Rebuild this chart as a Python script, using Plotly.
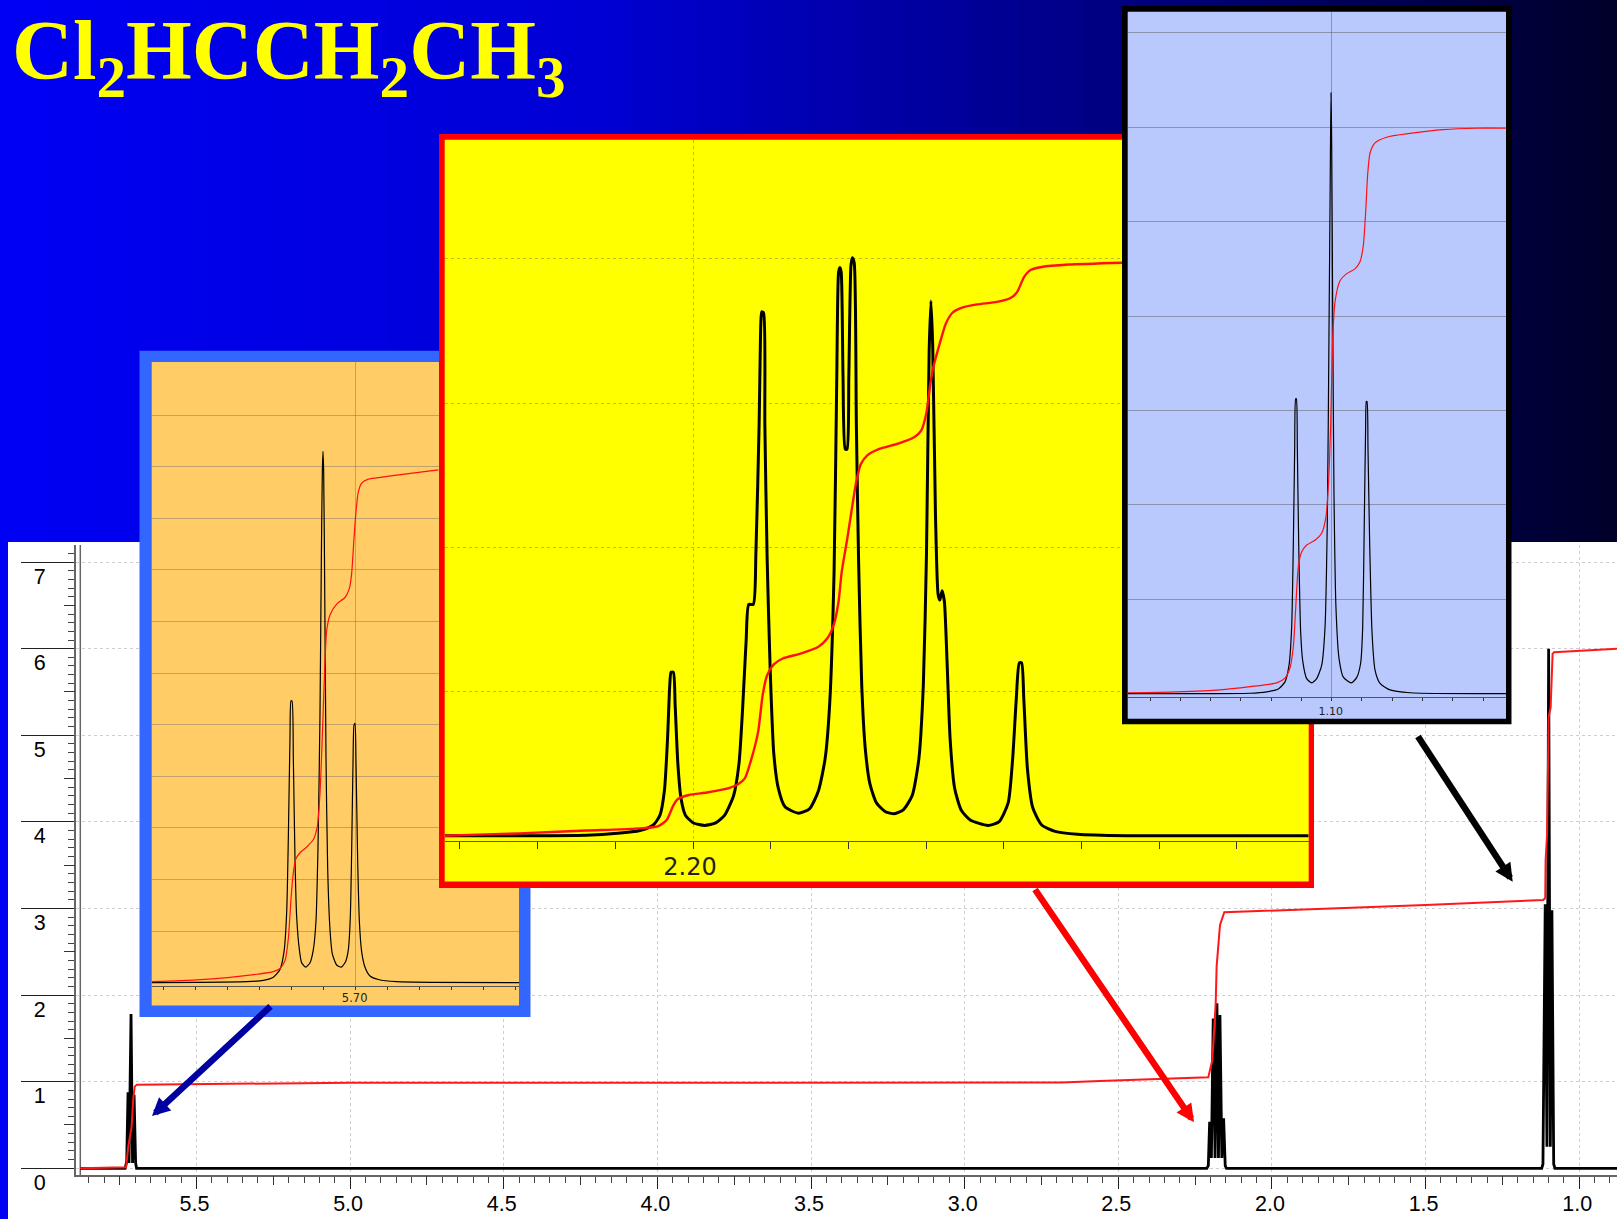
import plotly.graph_objects as go

W, H = 1617, 1219

# ---------- DATA (ppm, intensity units) ----------
TITLE = "Cl<sub>2</sub>HCCH<sub>2</sub>CH<sub>3</sub>"

MAIN_X_TICKS = [5.5, 5.0, 4.5, 4.0, 3.5, 3.0, 2.5, 2.0, 1.5, 1.0]
MAIN_X_LABELS = ["5.5", "5.0", "4.5", "4.0", "3.5", "3.0", "2.5", "2.0", "1.5", "1.0"]
MAIN_Y_TICKS = [0, 1, 2, 3, 4, 5, 6, 7]
MAIN_X_QUARTER = [5.75, 5.25, 4.75, 4.25, 3.75, 3.25, 2.75, 2.25, 1.75, 1.25]
MAIN_Y_HALF = [0.5, 1.5, 2.5, 3.5, 4.5, 5.5, 6.5]

MAIN_PPM = [5.879, 5.732, 5.727, 5.7227, 5.7195, 5.7129, 5.708, 5.703, 5.698, 5.695,
            2.212, 2.207, 2.2027, 2.197, 2.1911, 2.185, 2.179, 2.174, 2.1692, 2.163, 2.1572, 2.152, 2.148,
            1.122, 1.118, 1.1106, 1.105, 1.0995, 1.094, 1.0888, 1.083, 1.079, 0.877]
MAIN_INT = [0, 0, 0.08, 0.877, 0.06, 1.78, 0.06, 0.85, 0.06, 0,
            0, 0.03, 0.538, 0.12, 1.73, 0.12, 1.905, 0.12, 1.77, 0.12, 0.577, 0.03, 0,
            0, 0.05, 3.05, 0.25, 6.0, 0.25, 2.98, 0.05, 0, 0]
MAIN_INT_PPM = [5.879, 5.729, 5.722, 5.711, 5.706, 5.701, 5.694, 5.5, 5.0, 4.0, 2.684, 2.56, 2.207,
                2.194, 2.1888, 2.183, 2.180, 2.169, 2.155, 1.5, 1.117, 1.1106, 1.1093, 1.1046, 1.0995,
                1.093, 1.0866, 1.082, 0.877]
MAIN_INT_VAL = [0, 0.011, 0.25, 0.481, 0.79, 0.943, 0.966, 0.972, 0.987, 0.987, 0.99, 1.008, 1.05,
                1.25, 1.635, 1.905, 2.328, 2.81, 2.956, 3.04, 3.098, 3.12, 3.56, 3.845, 5.21,
                5.32, 5.94, 5.96, 6.0]

ORANGE_TICKS = [5.76, 5.75, 5.74, 5.73, 5.72, 5.71, 5.70, 5.69, 5.68, 5.67, 5.66, 5.65]
ORANGE_GRID = [1, 2, 3, 4, 5, 6, 7, 8, 9, 10, 11]
ORANGE_PPM = [5.76375, 5.73406, 5.72885, 5.72573, 5.72365, 5.72240, 5.72156, 5.72104, 5.72052, 5.72021,
              5.71990, 5.71948, 5.71896, 5.71844, 5.71760, 5.71688, 5.71563, 5.71427, 5.71323, 5.71240,
              5.71177, 5.71115, 5.71073, 5.71042, 5.71021, 5.71000, 5.70969, 5.70927, 5.70875, 5.70802,
              5.70729, 5.70594, 5.70448, 5.70313, 5.70229, 5.70167, 5.70125, 5.70083, 5.70052, 5.70021,
              5.69990, 5.69938, 5.69885, 5.69812, 5.69708, 5.69552, 5.69292, 5.68719, 5.64896]
ORANGE_INT = [0, 0.017, 0.043, 0.102, 0.256, 0.597, 1.365, 2.816, 4.778, 5.461,
              5.461, 4.352, 2.389, 1.280, 0.640, 0.384, 0.299, 0.384, 0.640, 1.195,
              2.645, 5.205, 8.191, 9.898, 10.299, 9.898, 7.765, 4.352, 2.218, 1.024,
              0.555, 0.341, 0.299, 0.410, 0.640, 1.280, 2.560, 4.266, 4.991, 5.026,
              4.266, 2.389, 1.195, 0.597, 0.299, 0.128, 0.060, 0.017, 0]
ORANGE_RED_PPM = [5.76375, 5.74969, 5.73927, 5.73094, 5.72573, 5.72365, 5.72208, 5.72104, 5.72021, 5.71948,
                  5.71875, 5.71740, 5.71531, 5.71323, 5.71198, 5.71115, 5.71042, 5.70969, 5.70906, 5.70802,
                  5.70594, 5.70333, 5.70198, 5.70125, 5.70052, 5.69990, 5.69917, 5.69812, 5.69604, 5.69344,
                  5.68719, 5.67417]
ORANGE_RED_VAL = [0.017, 0.051, 0.102, 0.162, 0.213, 0.273, 0.427, 0.853, 1.621, 2.133,
                  2.389, 2.517, 2.628, 2.773, 3.029, 3.669, 4.778, 6.058, 6.826, 7.125,
                  7.338, 7.466, 7.637, 7.935, 8.618, 9.130, 9.514, 9.684, 9.761, 9.787,
                  9.838, 9.941]

YELLOW_TICKS = [2.23, 2.22, 2.21, 2.20, 2.19, 2.18, 2.17, 2.16, 2.15, 2.14, 2.13]
YELLOW_GRID = [1, 2, 3, 4]
YELLOW_PPM = [2.23195, 2.21374, 2.20971, 2.20684, 2.20511, 2.20425, 2.20368, 2.20328, 2.20299, 2.20282,
              2.20253, 2.20230, 2.20195, 2.20155, 2.20098, 2.19994, 2.19851, 2.19707, 2.19592, 2.19477,
              2.19408, 2.19362, 2.19316, 2.19282, 2.19224, 2.19190, 2.19149, 2.19126, 2.19115, 2.19092,
              2.19075, 2.19046, 2.19006, 2.18960, 2.18902, 2.18816, 2.18644, 2.18500, 2.18385, 2.18299,
              2.18241, 2.18184, 2.18149, 2.18126, 2.18109, 2.18092, 2.18069, 2.18040, 2.18017, 2.17994,
              2.17966, 2.17948, 2.17925, 2.17897, 2.17868, 2.17828, 2.17782, 2.17724, 2.17638, 2.17523,
              2.17408, 2.17293, 2.17178, 2.17092, 2.17035, 2.16994, 2.16960, 2.16937, 2.16914, 2.16879,
              2.16845, 2.16822, 2.16793, 2.16764, 2.16730, 2.16690, 2.16632, 2.16546, 2.16431, 2.16201,
              2.16058, 2.15943, 2.15885, 2.15839, 2.15799, 2.15770, 2.15741, 2.15695, 2.15626, 2.15511,
              2.15339, 2.15052, 2.14420, 2.12075]
YELLOW_INT = [0, 0.003, 0.017, 0.037, 0.075, 0.143, 0.313, 0.671, 1.045, 1.134,
              1.134, 0.909, 0.500, 0.262, 0.143, 0.089, 0.072, 0.089, 0.143, 0.279,
              0.500, 0.875, 1.352, 1.604, 1.604, 1.965, 2.850, 3.565, 3.633, 3.626,
              2.850, 1.931, 1.147, 0.569, 0.330, 0.201, 0.157, 0.187, 0.313, 0.535,
              0.909, 1.828, 3.190, 3.905, 3.939, 3.905, 3.190, 2.680, 2.680, 3.190,
              3.956, 4.007, 3.973, 2.850, 1.896, 1.045, 0.603, 0.364, 0.228, 0.167,
              0.153, 0.180, 0.279, 0.535, 1.045, 1.965, 3.361, 3.708, 3.395, 2.237,
              1.675, 1.634, 1.699, 1.624, 1.216, 0.671, 0.330, 0.177, 0.109, 0.072,
              0.099, 0.228, 0.535, 0.943, 1.199, 1.199, 0.943, 0.466, 0.194, 0.075,
              0.031, 0.010, 0, 0]
YELLOW_RED_PPM = [2.23195, 2.22236, 2.21374, 2.20799, 2.20454, 2.20339, 2.20253, 2.20195, 2.20052, 2.19822,
                  2.19592, 2.19420, 2.19333, 2.19247, 2.19161, 2.19103, 2.19046, 2.18960, 2.18845, 2.18615,
                  2.18385, 2.18270, 2.18184, 2.18126, 2.18086, 2.18012, 2.17954, 2.17897, 2.17839, 2.17753,
                  2.17609, 2.17351, 2.17149, 2.17063, 2.16994, 2.16948, 2.16902, 2.16833, 2.16747, 2.16661,
                  2.16546, 2.16345, 2.16086, 2.15914, 2.15828, 2.15741, 2.15655, 2.15511, 2.15167, 2.14477]
YELLOW_RED_VAL = [0, 0.017, 0.037, 0.048, 0.065, 0.109, 0.211, 0.255, 0.283, 0.300,
                  0.323, 0.358, 0.398, 0.535, 0.722, 0.977, 1.113, 1.188, 1.229, 1.263,
                  1.311, 1.369, 1.471, 1.624, 1.828, 2.067, 2.271, 2.458, 2.577, 2.639,
                  2.680, 2.720, 2.765, 2.809, 2.935, 3.122, 3.258, 3.395, 3.548, 3.626,
                  3.660, 3.684, 3.701, 3.728, 3.769, 3.871, 3.922, 3.943, 3.960, 3.973]

BLUE_TICKS = [1.16, 1.15, 1.14, 1.13, 1.12, 1.11, 1.10, 1.09, 1.08, 1.07, 1.06, 1.05]
BLUE_GRID = [1, 2, 3, 4, 5, 6, 7]
BLUE_PPM = [1.16740, 1.12698, 1.12148, 1.11762, 1.11542, 1.11410, 1.11322, 1.11266, 1.11222, 1.11189,
            1.11167, 1.11134, 1.11090, 1.11024, 1.10958, 1.10826, 1.10661, 1.10496, 1.10330, 1.10220,
            1.10143, 1.10088, 1.10044, 1.10022, 1.10000, 1.09967, 1.09923, 1.09857, 1.09758, 1.09615,
            1.09350, 1.09174, 1.09042, 1.08976, 1.08921, 1.08877, 1.08855, 1.08833, 1.08800, 1.08745,
            1.08667, 1.08568, 1.08403, 1.08073, 1.07412, 1.04240]
BLUE_INT = [0, 0.005, 0.02, 0.05, 0.125, 0.30, 0.70, 1.60, 2.60, 3.125,
            3.125, 2.60, 1.60, 0.65, 0.35, 0.16, 0.115, 0.16, 0.30, 0.70,
            1.85, 3.85, 5.60, 6.365, 5.85, 4.10, 2.10, 0.90, 0.375, 0.175,
            0.115, 0.17, 0.325, 0.70, 1.85, 2.85, 3.095, 3.095, 2.60, 1.60,
            0.65, 0.25, 0.11, 0.04, 0.01, 0]
BLUE_RED_PPM = [1.16740, 1.15121, 1.13689, 1.12698, 1.11817, 1.11542, 1.11377, 1.11266, 1.11189, 1.11101,
                1.10991, 1.10826, 1.10551, 1.10330, 1.10187, 1.10110, 1.10033, 1.09967, 1.09890, 1.09725,
                1.09504, 1.09229, 1.09064, 1.08954, 1.08877, 1.08811, 1.08734, 1.08568, 1.08183, 1.07412,
                1.06311, 1.05209, 1.04240]
BLUE_RED_VAL = [0.01, 0.02, 0.04, 0.075, 0.115, 0.165, 0.275, 0.50, 0.90, 1.35,
                1.50, 1.575, 1.625, 1.70, 1.875, 2.20, 2.85, 3.75, 4.15, 4.375,
                4.45, 4.50, 4.575, 4.75, 5.10, 5.50, 5.725, 5.835, 5.895, 5.935,
                5.975, 5.99, 5.99]


# ---------- helpers ----------
def px_x(v):
    return v / W


def px_y(v):
    return 1 - v / H


def dom_y(top, bottom):
    return [px_y(bottom), px_y(top)]


fig = go.Figure()
layout = dict(
    template="none",
    width=W, height=H, margin=dict(l=0, r=0, t=0, b=0, pad=0, autoexpand=False), showlegend=False,
    paper_bgcolor="#0000F0", plot_bgcolor="rgba(0,0,0,0)", hovermode=False,
)
shapes = []

# background gradient
STOPS = [(0, 245), (600, 212), (1115, 130), (1617, 42)]


def blue_at(x):
    for (a, ca), (b, cb) in zip(STOPS, STOPS[1:]):
        if x <= b:
            return ca + (cb - ca) * (x - a) / (b - a)
    return STOPS[-1][1]


N = 100
for i in range(N):
    x0, x1 = W * i / N, W * (i + 1) / N + 1
    shapes.append(dict(type="rect", xref="paper", yref="paper", layer="below",
                       x0=px_x(x0), x1=px_x(x1), y0=0, y1=1, line_width=0,
                       fillcolor=f"rgb(0,0,{int(blue_at((x0 + x1) / 2))})"))
shapes.append(dict(type="rect", xref="paper", yref="paper", layer="below",
                   x0=px_x(8), x1=1, y0=0, y1=px_y(542), line_width=0, fillcolor="white"))
shapes.append(dict(type="line", xref="paper", yref="paper", layer="below",
                   x0=px_x(80.3), x1=px_x(80.3), y0=px_y(1175), y1=px_y(545),
                   line=dict(color="#666666", width=1.5)))

# main axes
MAIN_DOM_X = [px_x(75.7), 1]
MAIN_DOM_Y = dom_y(545, 1175)
MAIN_XR = [5.893, 0.877]
MAIN_YR = [-0.0775, 7.197]
GRIDC = "#CFCFCF"
tick_font = dict(family="Liberation Sans, Arial", size=21.5, color="black")
layout["xaxis"] = dict(
    domain=MAIN_DOM_X, range=MAIN_XR, anchor="y", tickmode="array",
    tickvals=MAIN_X_TICKS, ticktext=MAIN_X_LABELS, ticks="outside", ticklen=12,
    tickwidth=1.2, tickcolor="#222222", showline=True, linecolor="#666666", linewidth=1.5,
    showgrid=True, gridcolor=GRIDC, griddash="dot", gridwidth=1.2, zeroline=False,
    tickfont=tick_font, ticklabelstandoff=-4, ticklabelshift=2, automargin=False,
    minor=dict(dtick=0.05, tick0=0, ticks="outside", ticklen=6, tickwidth=1, tickcolor="#444444", showgrid=False),
)
layout["yaxis"] = dict(
    domain=MAIN_DOM_Y, range=MAIN_YR, anchor="x", tickmode="array",
    tickvals=MAIN_Y_TICKS, ticktext=[str(t) for t in MAIN_Y_TICKS], ticks="outside", ticklen=53,
    tickwidth=1.2, tickcolor="#222222", showline=True, linecolor="#666666", linewidth=1.5,
    showgrid=True, gridcolor=GRIDC, griddash="dot", gridwidth=1.2, zeroline=False,
    tickfont=tick_font, ticklabelstandoff=-29, ticklabelshift=14, automargin=False,
    minor=dict(dtick=0.1, tick0=0, ticks="outside", ticklen=6, tickwidth=1, tickcolor="#444444", showgrid=False),
)
layout["xaxis2"] = dict(
    overlaying="x", range=MAIN_XR, anchor="y2", side="bottom", tickmode="array", tickvals=MAIN_X_QUARTER,
    ticks="outside", ticklen=9, tickwidth=1, tickcolor="#333333", showticklabels=False,
    showgrid=False, zeroline=False, showline=False,
)
layout["yaxis2"] = dict(
    overlaying="y", range=MAIN_YR, anchor="x2", side="left", tickmode="array", tickvals=MAIN_Y_HALF,
    ticks="outside", ticklen=11, tickwidth=1, tickcolor="#333333", showticklabels=False,
    showgrid=False, zeroline=False, showline=False,
)
fig.add_trace(go.Scatter(x=MAIN_PPM, y=MAIN_INT, mode="lines", xaxis="x", yaxis="y",
                         line=dict(color="black", width=2.8), hoverinfo="skip"))
fig.add_trace(go.Scatter(x=MAIN_INT_PPM, y=MAIN_INT_VAL, mode="lines", xaxis="x2", yaxis="y2",
                         line=dict(color="#FF1818", width=2), hoverinfo="skip"))

PANELS = [
    dict(n=3, outer=(139.3, 350.6, 530.7, 1017), inner=(151.7, 362, 519, 1005.5), axis_y=985.7, cpx=355.67,
         frame="#3366FF", fill="#FFCC66", center=5.70, label="5.70", scale=3200, zero=982.6, unit=51.58,
         ticks=ORANGE_TICKS, grid=ORANGE_GRID, x=ORANGE_PPM, y=ORANGE_INT, rx=ORANGE_RED_PPM, ry=ORANGE_RED_VAL,
         lw=1.2, rw=1.2, ticklen=3, font=11.5, gridc="rgba(110,110,110,0.45)", griddash="solid",
         standoff=-2, shift=1),
    dict(n=5, outer=(439, 134, 1314, 888), inner=(444.7, 139.8, 1308.7, 881.5), axis_y=840.7, cpx=693.0,
         frame="#FF0000", fill="#FFFF00", center=2.20, label="2.20", scale=7768, zero=835.8, unit=144.25,
         ticks=YELLOW_TICKS, grid=YELLOW_GRID, x=YELLOW_PPM, y=YELLOW_INT, rx=YELLOW_RED_PPM, ry=YELLOW_RED_VAL,
         lw=3, rw=2.4, ticklen=7, font=24, gridc="rgba(90,90,90,0.4)", griddash="dot",
         standoff=-3, shift=3),
    dict(n=7, outer=(1122, 5.7, 1511.7, 724.4), inner=(1127.7, 11.8, 1506, 718.7), axis_y=696.5, cpx=1331.67,
         frame="#000000", fill="#B9C9FD", center=1.10, label="1.10", scale=3027, zero=693.7, unit=94.4,
         ticks=BLUE_TICKS, grid=BLUE_GRID, x=BLUE_PPM, y=BLUE_INT, rx=BLUE_RED_PPM, ry=BLUE_RED_VAL,
         lw=1.2, rw=1.2, ticklen=3.5, font=11, gridc="rgba(100,100,110,0.55)", griddash="solid",
         standoff=1, shift=1),
]

for p in PANELS:
    n = p["n"]
    ox0, oy0, ox1, oy1 = p["outer"]
    ix0, iy0, ix1, iy1 = p["inner"]
    # frame subplot: frame colour and panel fill
    layout[f"xaxis{n}"] = dict(domain=[px_x(ox0), px_x(ox1)], range=[ox0, ox1], visible=False, anchor=f"y{n}")
    layout[f"yaxis{n}"] = dict(domain=dom_y(oy0, oy1), range=[oy1, oy0], visible=False, anchor=f"x{n}")
    for (a0, b0, a1, b1), col in (((ox0, oy0, ox1, oy1), p["frame"]), ((ix0, iy0, ix1, iy1), p["fill"])):
        fig.add_trace(go.Scatter(x=[a0, a1, a1, a0, a0], y=[b0, b0, b1, b1, b0], mode="lines", fill="toself",
                                 fillcolor=col, line=dict(width=0), xaxis=f"x{n}", yaxis=f"y{n}", hoverinfo="skip"))
    # content subplot
    m = n + 1
    cpx = p["cpx"]
    xr = [p["center"] + (cpx - ix0) / p["scale"], p["center"] - (ix1 - cpx) / p["scale"]]
    yr = [(p["zero"] - p["axis_y"]) / p["unit"], (p["zero"] - iy0) / p["unit"]]
    layout[f"xaxis{m}"] = dict(
        domain=[px_x(ix0), px_x(ix1)], range=xr, anchor=f"y{m}", tickmode="array",
        tickvals=[p["center"]], ticktext=[p["label"]], ticks="outside", ticklen=p["ticklen"], tickwidth=1,
        tickcolor="#333333", showline=True, linecolor="#555555", linewidth=1,
        showgrid=True, gridcolor=p["gridc"], griddash=p["griddash"], gridwidth=1, zeroline=False,
        tickfont=dict(family="DejaVu Sans", size=p["font"], color="#222222"),
        ticklabelstandoff=p["standoff"], ticklabelshift=p["shift"],
        minor=dict(tickmode="array", tickvals=p["ticks"], ticks="outside", ticklen=p["ticklen"], tickwidth=1,
                   tickcolor="#333333", showgrid=False),
    )
    layout[f"yaxis{m}"] = dict(
        domain=dom_y(iy0, p["axis_y"]), range=yr, anchor=f"x{m}", tickmode="array", tickvals=p["grid"],
        ticks="", showticklabels=False, showline=False, showgrid=True, gridcolor=p["gridc"],
        griddash=p["griddash"], gridwidth=1, zeroline=False,
    )
    fig.add_trace(go.Scatter(x=p["x"], y=p["y"], mode="lines", xaxis=f"x{m}", yaxis=f"y{m}",
                             line=dict(color="black", width=p["lw"], shape="spline", smoothing=0.6), hoverinfo="skip"))
    fig.add_trace(go.Scatter(x=p["rx"], y=p["ry"], mode="lines", xaxis=f"x{m}", yaxis=f"y{m}",
                             line=dict(color="#FF1010", width=p["rw"], shape="spline", smoothing=0.6), hoverinfo="skip"))

annotations = [dict(
    text=TITLE, xref="paper", yref="paper", x=px_x(10), y=px_y(112), xanchor="left", yanchor="bottom",
    showarrow=False, align="left", font=dict(family="Liberation Serif", size=84.5, color="#FFFF00", weight="bold"),
)]
ARROWS = [
    ((272, 1005), (152, 1116), "#0000A0"),
    ((1034, 888), (1194, 1122.3), "#FF0000"),
    ((1417, 735), (1512.7, 881.7), "#000000"),
]
for (tx, ty), (hx, hy), col in ARROWS:
    annotations.append(dict(
        text="", xref="paper", yref="paper", x=px_x(hx), y=px_y(hy), axref="pixel", ayref="pixel",
        ax=tx - hx, ay=ty - hy, showarrow=True, arrowhead=2, arrowsize=0.55, arrowwidth=6.5, arrowcolor=col,
        standoff=0,
    ))

layout["shapes"] = shapes
layout["annotations"] = annotations
fig.update_layout(**layout)
fig.write_html("out.html", config={"displayModeBar": False},
               post_script="document.body.style.margin='0';document.body.style.overflow='hidden';")
